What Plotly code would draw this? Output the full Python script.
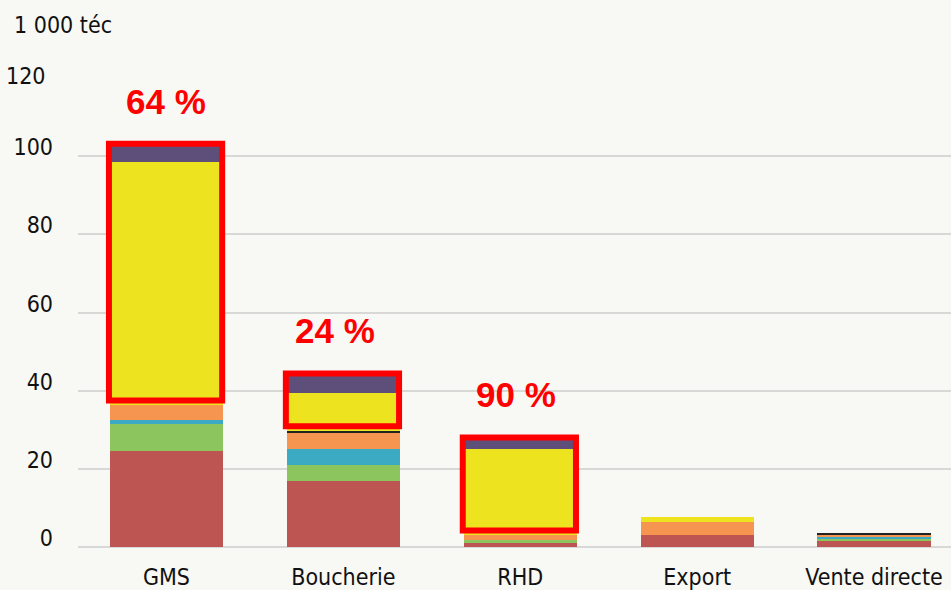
import plotly.graph_objects as go

# débouchés (1 000 téc)
categories = ["GMS", "Boucherie", "RHD", "Export", "Vente directe"]

rouge = [24.5, 16.8, 1.0, 3.1, 1.5]
vert = [6.9, 4.2, 0.8, 0.0, 0.6]
bleu = [1.0, 4.1, 0.0, 0.0, 0.6]
orange = [4.0, 4.0, 1.3, 3.4, 0.4]
noir = [0.0, 0.7, 0.0, 0.0, 0.4]
jaune = [62.1, 9.5, 22.0, 1.3, 0.0]
violet = [4.1, 4.5, 2.3, 0.0, 0.0]

# part encadrée (jaune + violet)
parts = ["64 %", "24 %", "90 %"]

y_ticks = [0, 20, 40, 60, 80, 100]

series = [
    (rouge, "#bd5653"),
    (vert, "#8cc45e"),
    (bleu, "#3daac4"),
    (orange, "#f5954f"),
    (noir, "#222222"),
    (jaune, "#ede41f"),
    (violet, "#5e4f7a"),
]

cond = "DejaVu Sans Condensed, Liberation Sans Narrow, sans-serif"
bg = "#f8f8f4"

fig = go.Figure()
for vals, col in series:
    fig.add_trace(go.Bar(x=list(range(len(categories))), y=vals,
                         marker=dict(color=col, line=dict(width=0)),
                         width=0.64, showlegend=False))

# cadres rouges + pourcentages
shifts = [0, -8, -4]
for i, txt in enumerate(parts):
    base = rouge[i] + vert[i] + bleu[i] + orange[i] + noir[i]
    top = base + jaune[i] + violet[i]
    fig.add_shape(type="rect", xref="x", yref="y",
                  x0=i - 0.325, x1=i + 0.315, y0=base + 1.1, y1=top + 0.6,
                  line=dict(color="#ff0000", width=6))
    fig.add_annotation(x=i, y=top + 11.5, xref="x", yref="y", text=txt,
                       showarrow=False, yanchor="middle", xshift=shifts[i],
                       font=dict(family="Liberation Sans, Arial", size=35,
                                 color="#ff0000", weight="bold"))

# 120 et unité, au-dessus de l'axe
fig.add_annotation(x=-0.0344, y=1.008, xref="paper", yref="paper", text="120",
                   showarrow=False, xanchor="right", yanchor="middle",
                   font=dict(family=cond, size=23, color="#111111"))
fig.add_annotation(x=-0.0756, y=1.117, xref="paper", yref="paper", text="1 000 téc",
                   showarrow=False, xanchor="left", yanchor="middle",
                   font=dict(family=cond, size=23, color="#111111"))

fig.update_layout(
    width=951, height=590,
    margin=dict(l=78, r=0, t=80, b=41),
    paper_bgcolor=bg, plot_bgcolor=bg,
    barmode="stack", bargap=0.36,
    font=dict(family=cond, size=23, color="#111111"),
)
fig.update_xaxes(range=[-0.5, 4.435], tickmode="array",
                 tickvals=list(range(len(categories))), ticktext=categories,
                 showgrid=False, zeroline=False, showline=False,
                 ticks="", ticklabelstandoff=14)
fig.update_yaxes(range=[0, 119.5], tickvals=y_ticks, showgrid=True,
                 gridcolor="#d8d8d6", gridwidth=1.5, zeroline=True,
                 zerolinecolor="#d8d8d6", zerolinewidth=1.5,
                 ticks="", ticklabelstandoff=24, ticklabelshift=-9)

fig.write_html("out.html", config={"displayModeBar": False},
               post_script="document.body.style.margin='0';")
